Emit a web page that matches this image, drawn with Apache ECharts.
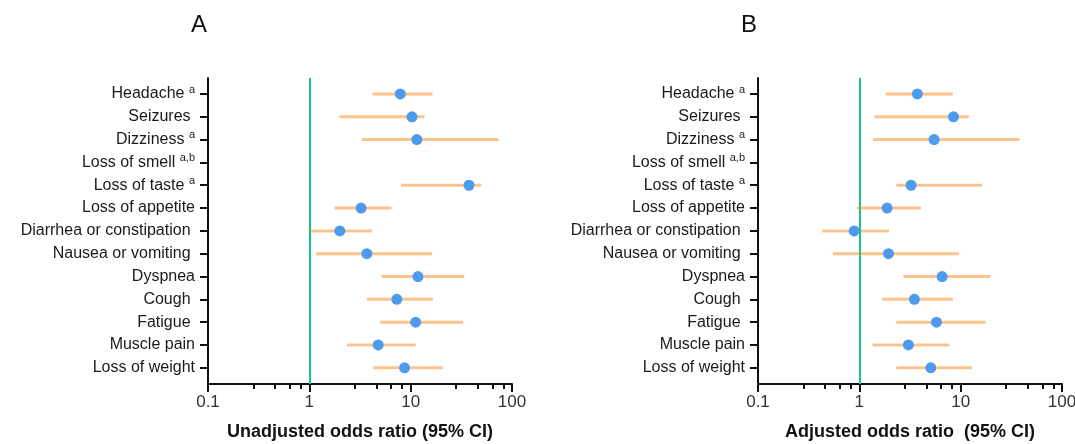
<!DOCTYPE html>
<html>
<head>
<meta charset="utf-8">
<script src="https://cdn.jsdelivr.net/npm/echarts@6/dist/echarts.min.js"></script>
<style>
  html, body { margin: 0; padding: 0; background: #fff; }
  #chart { width: 1075px; height: 444px; }
</style>
</head>
<body>
<div id="chart"></div>
<script>
const categories = [
  "Headache", "Seizures ", "Dizziness", "Loss of smell", "Loss of taste",
  "Loss of appetite", "Diarrhea or constipation ", "Nausea or vomiting ",
  "Dyspnea", "Cough ", "Fatigue ", "Muscle pain", "Loss of weight"
];
const footnotes = ["a", "", "a", "a,b", "a", "", "", "", "", "", "", "", ""];

// unadjusted odds ratios (panel A); null = not estimated
const orA = [7.9, 10.3, 11.5, null, 37.6, 3.24, 2.0, 3.69, 11.8, 7.3, 11.2, 4.78, 8.7];
const lowA = [4.2, 1.98, 3.3, null, 8.06, 1.77, 1.04, 1.16, 5.19, 3.69, 5.0, 2.36, 4.23];
const highA = [16.4, 13.7, 73.8, null, 49.8, 6.46, 4.14, 16.3, 33.8, 16.6, 32.8, 11.2, 20.8];

// adjusted odds ratios (panel B)
const orB = [3.74, 8.5, 5.47, null, 3.24, 1.88, 0.89, 1.94, 6.56, 3.5, 5.77, 3.05, 5.07];
const lowB = [1.82, 1.41, 1.37, null, 2.32, 0.95, 0.43, 0.55, 2.72, 1.68, 2.32, 1.35, 2.32];
const highB = [8.37, 12.0, 38.1, null, 16.3, 4.07, 1.96, 9.6, 19.7, 8.37, 17.6, 7.75, 12.9];

const xTickLabels = [0.1, 1, 10, 100];
const minorTicks = [0.28, 0.46, 0.64, 0.82, 2.8, 4.6, 6.4, 8.2, 28, 46, 64, 82];

const FONT = "Arial, 'Liberation Sans', sans-serif";
const panels = [
  { title: "A", name: "Unadjusted odds ratio (95% CI)", or: orA, low: lowA, high: highA, left: 208 },
  { title: "B", name: "Adjusted odds ratio  (95% CI)", or: orB, low: lowB, high: highB, left: 758 }
];

const chart = echarts.init(document.getElementById("chart"), null, { renderer: "canvas" });

const grid = [], xAxis = [], yAxis = [], series = [], title = [];
const idx = categories.map((c, i) => i);

panels.forEach((p, k) => {
  grid.push({ left: p.left, top: 78, width: 304, height: 306, outerBoundsMode: "none", containLabel: false });
  title.push({
    text: p.title, left: p.left - 22, top: 8,
    textStyle: { fontFamily: FONT, fontSize: 24, fontWeight: "normal", color: "#111" }
  });
  // major axis
  xAxis.push({
    type: "log", gridIndex: k, min: 0.1, max: 100, logBase: 10, position: "bottom",
    name: p.name, nameLocation: "middle", nameGap: 39,
    nameTextStyle: { fontFamily: FONT, fontSize: 18, fontWeight: "bold", color: "#111" },
    axisLine: { onZero: false, lineStyle: { color: "#111", width: 2 } },
    axisTick: { length: 8, lineStyle: { color: "#111", width: 2 }, customValues: xTickLabels },
    axisLabel: {
      fontFamily: FONT, fontSize: 17, color: "#333", margin: 10,
      customValues: xTickLabels, formatter: v => String(v)
    },
    splitLine: { show: false }
  });
  // minor ticks
  xAxis.push({
    type: "log", gridIndex: k, min: 0.1, max: 100, logBase: 10, position: "bottom",
    axisLine: { show: false, onZero: false },
    axisTick: { length: 5, lineStyle: { color: "#111", width: 2 }, customValues: minorTicks },
    axisLabel: { show: false },
    splitLine: { show: false }
  });
  yAxis.push({
    type: "value", gridIndex: k, inverse: true, min: -0.7, max: 12.71,
    axisLine: { show: true, onZero: false, lineStyle: { color: "#111", width: 2 } },
    axisTick: { show: true, length: 8, lineStyle: { color: "#111", width: 2 }, customValues: idx },
    axisLabel: {
      customValues: idx, margin: 13,
      formatter: v => {
        const i = Math.round(v);
        const f = footnotes[i];
        return f ? "{n|" + categories[i] + " }{s|" + f + "}" : "{n|" + categories[i] + "}";
      },
      rich: {
        n: { fontFamily: FONT, fontSize: 16, color: "#1a1a1a", lineHeight: 20 },
        s: { fontFamily: FONT, fontSize: 11, color: "#1a1a1a", lineHeight: 11, verticalAlign: "top", padding: [0, 0, 9, 0] }
      }
    },
    splitLine: { show: false }
  });

  const ci = [];
  const pts = [];
  p.or.forEach((v, i) => {
    if (v == null) return;
    ci.push([p.low[i], p.high[i], i]);
    pts.push([v, i]);
  });

  series.push({
    type: "custom", xAxisIndex: k * 2, yAxisIndex: k, data: ci,
    encode: { x: [0, 1], y: 2 },
    renderItem: (params, api) => {
      const a = api.coord([api.value(0), api.value(2)]);
      const b = api.coord([api.value(1), api.value(2)]);
      return {
        type: "line",
        shape: { x1: a[0], y1: a[1], x2: b[0], y2: b[1] },
        style: { stroke: "#fcc38c", lineWidth: 3 }
      };
    },
    z: 2
  });
  series.push({
    type: "scatter", xAxisIndex: k * 2, yAxisIndex: k, data: pts,
    symbol: "circle", symbolSize: 11,
    itemStyle: { color: "#4d9bef", opacity: 1 },
    z: 3,
    markLine: {
      silent: true, symbol: "none", animation: false,
      label: { show: false },
      lineStyle: { color: "#1dc584", width: 2, type: "solid" },
      data: [{ xAxis: 1 }]
    }
  });
});

chart.setOption({
  animation: false,
  backgroundColor: "#ffffff",
  title, grid, xAxis, yAxis, series
});
</script>
</body>
</html>
